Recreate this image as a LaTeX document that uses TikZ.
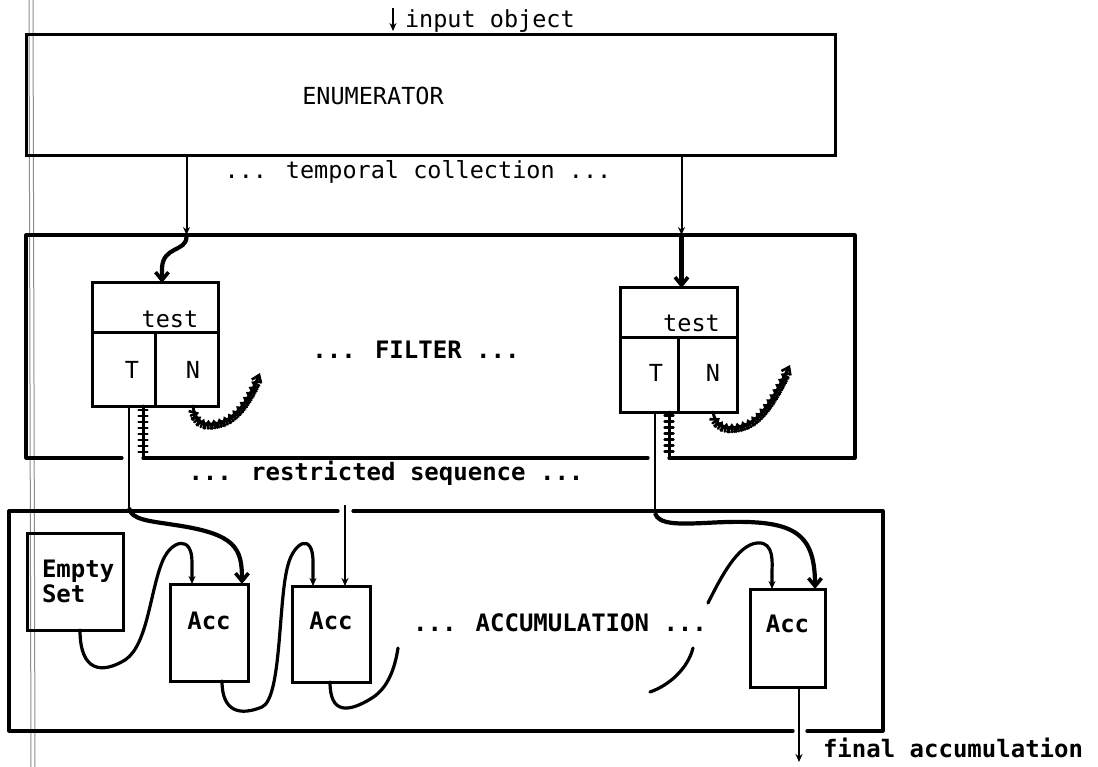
\documentclass[tikz,border=0pt]{standalone}
\usepackage{fontspec}
\newfontfamily\pfont{DejaVu Sans Mono}
\usetikzlibrary{arrows.meta,decorations.markings,calc}

\begin{document}
\begin{tikzpicture}[x=1pt,y=-1pt,
  every node/.style={outer sep=0pt, inner sep=0pt},
  frame/.style={line width=3.2pt, line cap=round, line join=round},
  box/.style={draw, line width=3pt},
  lbl/.style={font=\pfont\fontsize{23.5}{25}\selectfont},
  blbl/.style={font=\pfont\bfseries\fontsize{24}{25}\selectfont},
  thin arrow/.style={line width=2pt, -{Stealth[length=8pt,width=7pt]}},
  thick arrow/.style={line width=4.2pt, -{Straight Barb[length=8pt,width=13pt,line width=3.6pt]}},
  curve/.style={line width=3.2pt, line cap=round},
  smalltip/.style={-{Stealth[length=8pt,width=7pt]}},
  hatched/.style={line width=3pt, line cap=round,
    postaction={decorate, decoration={markings,
      mark=between positions 0.08 and 0.92 step 6pt with
        {\draw[line width=2.4pt] (0pt,-4.5pt) -- (0pt,4.5pt);}}}},
]
\useasboundingbox (0,0) rectangle (1098,767);

% faint double rule running down the left margin
\draw[black!45, line width=1pt] (29,0) -- (31,767);
\draw[black!45, line width=1pt] (33,0) -- (35,767);

% ---------------- enumerator ----------------
\node[box, minimum width=809, minimum height=121] (enum) at (430.5,95.5) {};
\node[lbl] (enumlbl) at (373,96) {ENUMERATOR};
\coordinate (intop) at (393,8);
\draw[thin arrow] (intop) -- ([xshift=-37.5,yshift=4]enum.north);
\node[lbl, anchor=base west] (inlbl) at (405,28) {input object};
\node[lbl] (tclbl) at (418,172) {... temporal collection ...};

% ---------------- filter ----------------
\node[minimum width=829, minimum height=223] (filter) at (440.5,346.5) {};
\draw[frame] ([xshift=96]filter.south west) -- (filter.south west)
  -- (filter.north west) -- (filter.north east) -- (filter.south east)
  -- ([xshift=-186]filter.south east);
\node[blbl] (filtlbl) at (416,350) {... FILTER ...};

% left test
\node[box, minimum width=126, minimum height=123] (testL) at (155,344.5) {};
\draw[line width=3pt] ([yshift=-50]testL.north west) -- ([yshift=-50]testL.north east);
\draw[line width=3pt] ([yshift=-50]testL.north) -- (testL.south);
\node[lbl] (testLt) at ([xshift=15,yshift=-36]testL.north) {test};
\node[lbl] (testLT) at ([xshift=-23,yshift=-25.5]testL.center) {T};
\node[lbl] (testLN) at ([xshift=38,yshift=-25.5]testL.center) {N};

% right test
\node[box, minimum width=117, minimum height=124] (testR) at (678.5,350) {};
\draw[line width=3pt] ([yshift=-50]testR.north west) -- ([yshift=-50]testR.north east);
\draw[line width=3pt] ([yshift=-50]testR.north) -- (testR.south);
\node[lbl] (testRt) at ([xshift=13,yshift=-35.5]testR.north) {test};
\node[lbl] (testRT) at ([xshift=-22.5,yshift=-23]testR.center) {T};
\node[lbl] (testRN) at ([xshift=34.5,yshift=-23]testR.center) {N};

% feeds from the enumerator into the tests
\coordinate (aL) at ([xshift=-244]enum.south);
\coordinate (aR) at ([xshift=251]enum.south);
\draw[thin arrow] (aL) -- (aL |- filter.north);
\draw[thick arrow] ([yshift=-2]aL |- filter.north) .. controls (186,252) and (163,246) .. (162,268)
  -- ([xshift=7]testL.north);
\draw[thin arrow] (aR) -- (aR |- filter.north);
\draw[thick arrow] ([yshift=-2]aR |- filter.north) -- ([xshift=3]testR.north);

% rejected items (N) leave the filter
\draw[hatched, -{Straight Barb[length=7pt,width=10pt,line width=2.6pt]}]
  ([xshift=38]testL.south) .. controls (195,422) and (203,428) .. (222,422)
  .. controls (240,416) and (252,392) .. (260,373);
\draw[hatched, -{Straight Barb[length=7pt,width=10pt,line width=2.6pt]}]
  ([xshift=34.5]testR.south) .. controls (715,425) and (725,432) .. (745,425)
  .. controls (765,418) and (780,385) .. (790,365);

% hatched rungs down to the filter floor
\coordinate (coilL) at ([xshift=-12]testL.south);
\coordinate (coilR) at ([xshift=-9.5]testR.south);
\draw[hatched] (coilL) -- (coilL |- filter.south);
\draw[hatched] (coilR) -- (coilR |- filter.south);
\coordinate (fbR) at ([xshift=-207]filter.south east);
\draw[frame] (coilL |- filter.south) -- (fbR);

\node[blbl] (rslbl) at (386,473) {... restricted sequence ...};

% ---------------- accumulation ----------------
\node[minimum width=874, minimum height=220] (accum) at (446,621) {};
\draw[frame] ([xshift=329]accum.north west) -- (accum.north west)
  -- (accum.south west) -- ([xshift=784]accum.south west);
\draw[frame] ([xshift=344]accum.north west) -- (accum.north east)
  -- (accum.south east) -- ([xshift=-76]accum.south east);
\node[blbl] (acclbl) at (560,623) {... ACCUMULATION ...};

\node[box, minimum width=96, minimum height=97] (empty) at (75,581.5) {};
\node[blbl, align=left, anchor=north west] (emptylbl) at ([xshift=15,yshift=-27]empty.north west) {Empty\\Set};

\node[box, minimum width=78, minimum height=97] (acc1) at (209,632.5) {};
\node[blbl] (acc1l) at ([yshift=12]acc1.center) {Acc};
\node[box, minimum width=78, minimum height=96] (acc2) at (331,634) {};
\node[blbl] (acc2l) at ([yshift=13]acc2.center) {Acc};
\node[box, minimum width=75, minimum height=98] (acc3) at (787.5,638) {};
\node[blbl] (acc3l) at ([yshift=14]acc3.center) {Acc};

% passing items (T) into the accumulators
\draw[line width=2.2pt] ([xshift=-26]testL.south) -- (129,508);
\draw[thick arrow] (129,508) .. controls (131,520) and (150,521) .. (175,525)
  .. controls (236,534) and (242,548) .. ([xshift=33]acc1.north);
\draw[line width=2.2pt] ([xshift=-23.5]testR.south) -- (655,513);
\draw[thick arrow] (655,513) .. controls (658,525) and (680,524) .. (705,523)
  .. controls (790,518) and (815,528) .. ([xshift=27.5]acc3.north);
\coordinate (gapTop) at (345,505);
\draw[thin arrow] (gapTop) -- ([xshift=14]acc2.north);

% chaining of partial results
\draw[curve, smalltip] ([xshift=5]empty.south) .. controls (80,672) and (102,674) .. (125,660)
  .. controls (148,645) and (150,590) .. (163,560)
  .. controls (172,540) and (192,535) .. (192,562) -- ([xshift=-17]acc1.north);
\draw[curve, smalltip] ([xshift=13]acc1.south) .. controls (222,712) and (240,716) .. (262,707)
  .. controls (282,698) and (278,600) .. (288,565)
  .. controls (294,542) and (313,532) .. (313,562) -- ([xshift=-18]acc2.north);
\coordinate (brk1) at (398,648);
\draw[curve] ([xshift=-1]acc2.south) .. controls (330,714) and (348,713) .. (372,698)
  .. controls (388,688) and (395,668) .. (brk1);
\coordinate (frA) at (650,692);
\coordinate (frB) at (693,648);
\draw[curve] (frA) .. controls (670,685) and (688,668) .. (frB);
\coordinate (frC) at (708,603);
\draw[curve, smalltip] (frC) .. controls (722,575) and (738,545) .. (757,543)
  .. controls (775,541) and (772,565) .. (772,572) -- ([xshift=-15.5]acc3.north);

% result
\coordinate (out) at (799,762);
\draw[thin arrow] ([xshift=11.5]acc3.south) -- (out);
\node[blbl, anchor=base west] (finlbl) at (823,757) {final accumulation};
\end{tikzpicture}
\end{document}
